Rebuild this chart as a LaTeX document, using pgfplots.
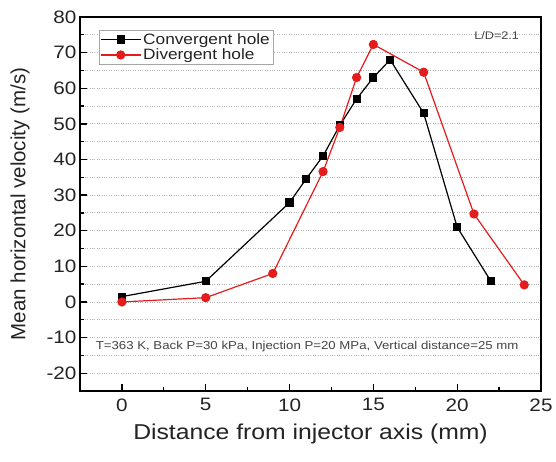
\documentclass[border=0pt]{standalone}
\usepackage{fontspec}
\setmainfont{Liberation Sans}[FakeStretch=1.15]
\newfontfamily\plainsans{Liberation Sans}
\usepackage{pgfplots}
\pgfplotsset{compat=1.18}
\definecolor{myred}{RGB}{228,28,28}
\definecolor{txt}{RGB}{35,35,35}
\begin{document}
\begin{tikzpicture}
\begin{axis}[
  name=ax,
  scale only axis,
  width=461pt, height=374pt,
  xmin=-2.5, xmax=25, ymin=-25, ymax=80,
  xtick={0,5,...,25}, ytick={-20,-10,...,80},
  minor tick num=1,
  xtick pos=bottom, ytick pos=left,
  tick align=inside,
  major tick length=7pt, minor tick length=4pt,
  every tick/.style={black, line width=1.3pt},
  axis line style={line width=1.6pt},
  ymajorgrids, yminorgrids,
  major grid style={gray!60, dotted, line width=0.9pt},
  minor grid style={gray!60, dotted, line width=0.9pt},
  /pgf/number format/assume math mode=true,
  tick label style={font=\fontsize{18}{20}\selectfont, text=txt},
  xticklabel style={yshift=-4pt},
  xlabel={Distance from injector axis (mm)},
  ylabel={Mean horizontal velocity (m/s)},
  xlabel style={font=\fontsize{21.5}{23}\selectfont, text=txt, yshift=-6pt},
  ylabel style={font=\plainsans\fontsize{20.5}{22}\selectfont, text=txt, yshift=10pt},
  legend style={at={(0.041,0.965)}, anchor=north west, draw=gray!70, line width=0.6pt,
     font=\fontsize{15}{17}\selectfont, text=txt, inner sep=1pt, row sep=-1pt},
  legend cell align=left,
  legend image code/.code={\draw[mark repeat=2,mark phase=2] plot coordinates {(0cm,0cm) (0.7cm,0cm) (1.4cm,0cm)};},
]
\addplot[black, line width=1.2pt, mark=square*, mark size=3.5pt, mark options={solid}]
 coordinates {(0,1.5) (5,5.8) (10,27.9) (11,34.6) (12,41) (13,49.6) (14,57) (15,63) (16,68) (18,53) (20,21) (22,5.9)};
\addlegendentry{Convergent hole}
\addplot[myred, line width=1.2pt, mark=*, mark size=4pt, mark options={solid, fill=myred}]
 coordinates {(0,0) (5,1.2) (9,8) (12,36.6) (13,49) (14,63) (15,72.3) (18,64.5) (21,24.7) (24,4.8)};
\addlegendentry{Divergent hole}
\node[font=\fontsize{11.5}{14}\selectfont, text=txt!85] at (axis cs:11.05,-12.6) {T=363 K, Back P=30 kPa, Injection P=20 MPa, Vertical distance=25 mm};
\node[font=\fontsize{11}{13}\selectfont, text=txt!85, anchor=east] at (axis cs:23.9,74.8) {L/D=2.1};
\end{axis}
\pgfresetboundingbox
\path[use as bounding box] ([xshift=-80pt,yshift=-71pt]ax.south west) rectangle ([xshift=15pt,yshift=17pt]ax.north east);
\end{tikzpicture}
\end{document}
